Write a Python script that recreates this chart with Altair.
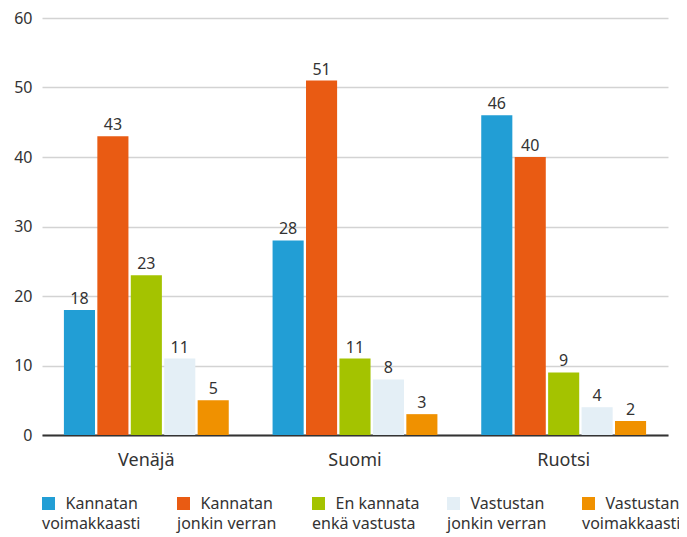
import altair as alt
import pandas as pd

countries = ["Venäjä", "Suomi", "Ruotsi"]
answers = [
    "Kannatan\nvoimakkaasti",
    "Kannatan\njonkin verran",
    "En kannata\nenkä vastusta",
    "Vastustan\njonkin verran",
    "Vastustan\nvoimakkaasti",
]
colors = ["#229ED5", "#E95B13", "#A4C300", "#E4EFF6", "#F09100"]
values = {
    "Venäjä": [18, 43, 23, 11, 5],
    "Suomi": [28, 51, 11, 8, 3],
    "Ruotsi": [46, 40, 9, 4, 2],
}
y_ticks = [0, 10, 20, 30, 40, 50, 60]

rows = []
for c in countries:
    for i, a in enumerate(answers):
        rows.append({"maa": c, "vastaus": a, "arvo": values[c][i], "jarj": i})
df = pd.DataFrame(rows)
leg = pd.DataFrame({"vastaus": answers, "jarj": list(range(len(answers)))})

FONT = "Noto Sans"
TXT = "#333333"

color_scale = alt.Scale(domain=answers, range=colors)

base = alt.Chart(df)

bars = base.mark_bar().encode(
    x=alt.X("maa:N", sort=countries, title=None,
            scale=alt.Scale(paddingInner=0.21, paddingOuter=0.105),
            axis=alt.Axis(labelAngle=0, ticks=False, labelPadding=16, labelFontSize=18,
                          labelColor=TXT, labelFont=FONT, domainColor="#333333",
                          domainWidth=2, grid=False)),
    xOffset=alt.XOffset("vastaus:N", sort=answers,
                        scale=alt.Scale(paddingInner=0.07, paddingOuter=0)),
    y=alt.Y("arvo:Q", title=None,
            scale=alt.Scale(domain=[0, 60], nice=False),
            axis=alt.Axis(values=y_ticks, ticks=False, domain=False, labelPadding=10,
                          labelFontSize=16, labelColor=TXT, labelFont=FONT,
                          gridColor="#d3d3d3", gridWidth=1.5)),
    color=alt.Color("vastaus:N", scale=color_scale, legend=None),
)

labels = base.mark_text(baseline="bottom", dy=-3, fontSize=16, font=FONT, color=TXT).encode(
    x=alt.X("maa:N", sort=countries),
    xOffset=alt.XOffset("vastaus:N", sort=answers),
    y="arvo:Q",
    text="arvo:Q",
)

main = alt.layer(bars, labels)

lbase = alt.Chart(leg).transform_calculate(
    l1="split(datum.vastaus, '\\n')[0]",
    l2="split(datum.vastaus, '\\n')[1]",
)
lx = alt.X("jarj:O", scale=alt.Scale(type="point", range=[6.5, 546.5], padding=0), axis=None)

lsq = lbase.mark_square(size=169, opacity=1).encode(
    x=lx, y=alt.value(485.5),
    color=alt.Color("vastaus:N", scale=color_scale, legend=None),
)
lt1 = lbase.mark_text(align="left", baseline="alphabetic", dx=17, fontSize=16, font=FONT, color=TXT).encode(
    x=lx, y=alt.value(491), text="l1:N")
lt2 = lbase.mark_text(align="left", baseline="alphabetic", dx=-6.5, fontSize=16, font=FONT, color=TXT).encode(
    x=lx, y=alt.value(511), text="l2:N")

legend = alt.layer(lsq, lt1, lt2)

chart = alt.layer(main, legend).resolve_scale(x="independent", color="shared").properties(
    width=626, height=417,
    autosize=alt.AutoSizeParams(type="none"),
    padding={"left": 34, "top": 10, "right": 11, "bottom": 102},
).configure_view(stroke=None)

chart.save("out.html", embed_options={"renderer": "svg", "actions": False})
